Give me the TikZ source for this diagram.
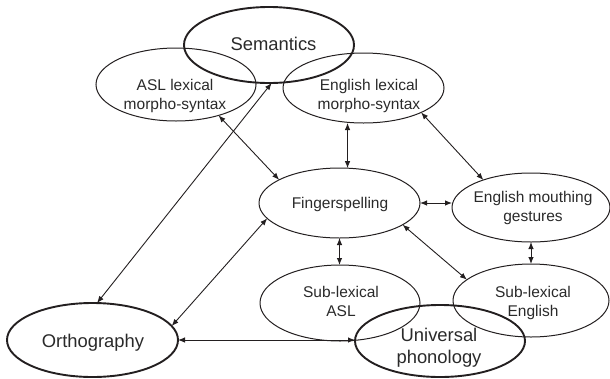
\documentclass[tikz,border=0pt]{standalone}
\usepackage{fontspec}
\setmainfont{Liberation Sans}
\usetikzlibrary{shapes.geometric,arrows.meta}
\definecolor{ink}{HTML}{231F20}
\definecolor{txt}{HTML}{2A2A2A}
\begin{document}
\begin{tikzpicture}[x=1pt,y=-1pt,
  ell/.style={draw=ink, ellipse, inner sep=0pt, outer sep=0pt, line width=1pt},
  bold/.style={ell, line width=1.9pt},
  small/.style={text=txt, align=center, font=\fontsize{15.5}{19}\selectfont, inner sep=0pt},
  big/.style={text=txt, align=center, font=\fontsize{18.4}{22}\selectfont, inner sep=0pt},
  link/.style={draw=ink, line width=0.9pt, <->, >={Latex[length=7pt,width=5.5pt]}}]
\useasboundingbox (0,0) rectangle (610,378);
% ellipses
\node[ell, minimum width=160pt, minimum height=73pt] (asl) at (176,84.5) {};
\node[ell, minimum width=161pt, minimum height=70pt] (englex) at (363.5,88) {};
\node[ell, minimum width=161pt, minimum height=70pt] (fs) at (339.5,203) {};
\node[ell, minimum width=158pt, minimum height=69pt] (em) at (531,207.5) {};
\node[ell, minimum width=160pt, minimum height=76pt] (sla) at (340,303) {};
\node[ell, minimum width=156pt, minimum height=73pt] (sle) at (531,300.5) {};
\node[bold, minimum width=170pt, minimum height=76pt] (sem) at (269,45) {};
\node[bold, minimum width=170pt, minimum height=72pt] (up) at (440,341) {};
\node[bold, minimum width=171pt, minimum height=74pt] (orth) at (92.5,340) {};
% texts
\node[big] (sem-t) at (273.5,43.5) {Semantics};
\node[small] (asl-t) at (175,96) {ASL lexical\\morpho-syntax};
\node[small] (englex-t) at (369,96) {English lexical\\morpho-syntax};
\node[small] (fs-t) at (340,204) {Fingerspelling};
\node[small] (em-t) at (533,208) {English mouthing\\gestures};
\node[small] (sla-t) at (341,301) {Sub-lexical\\ASL};
\node[small] (sle-t) at (533,302.5) {Sub-lexical\\English};
\node[big] (up-t) at (439,348) {Universal\\phonology};
\node[big] (orth-t) at (93,343) {Orthography};
% connectors
\draw[link] (orth.83) -- (sem.-86);
\draw[link] (asl.-36) -- (fs.159);
\draw[link] (fs.77) -- (fs.77 |- englex.south);
\draw[link] (englex.-23) -- (em.150);
\draw[link] (fs.east) -- (fs.east -| em.west);
\draw[link] (fs.south) -- (fs.south |- sla.north);
\draw[link] (fs.-19) -- (sle.162);
\draw[link] (em.south) -- (em.south |- sle.north);
\draw[link] (fs.192) -- (orth.10.6);
\draw[link] (orth.east) -- (orth.east -| up.west);
\end{tikzpicture}
\end{document}
